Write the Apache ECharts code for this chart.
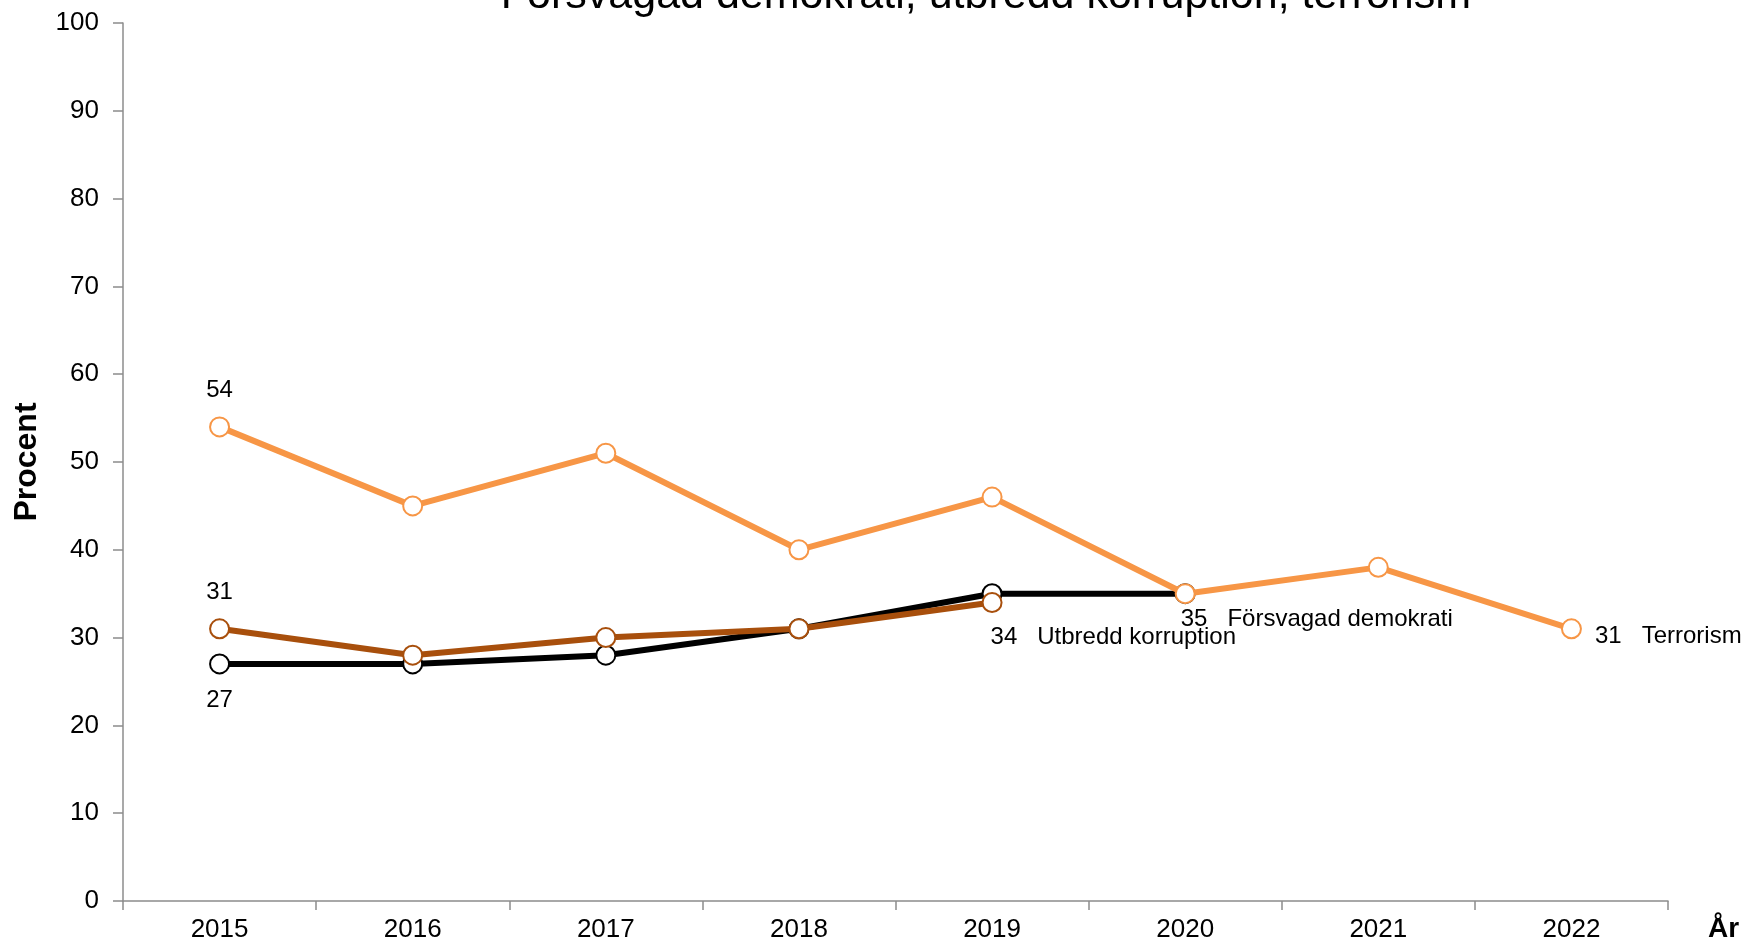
<!doctype html>
<html lang="sv">
  <head>
    <meta charset="UTF-8" />
    <title>Försvagad demokrati, utbredd korruption, terrorism</title>
    <script src="https://cdn.jsdelivr.net/npm/echarts@6/dist/echarts.min.js"></script>
    <style>
      body { margin: 0; padding: 0; background: #fff; }
      .main { width: 1748px; height: 944px; }
    </style>
  </head>
  <body>
    <div class="main"></div>
  </body>
  <script>
    // data
    const years = ["2015", "2016", "2017", "2018", "2019", "2020", "2021", "2022"];
    const demokrati = [27, 27, 28, 31, 35, 35];
    const korruption = [31, 28, 30, 31, 34];
    const terrorism = [54, 45, 51, 40, 46, 35, 38, 31];
    const yTicks = [0, 10, 20, 30, 40, 50, 60, 70, 80, 90, 100];

    const FONT = "'Liberation Sans', Arial, sans-serif";
    const labelStyle = { color: "#000", fontSize: 24, fontFamily: FONT };

    // build points, attach labels to some of them
    function points(values, labels) {
      return values.map((v, i) => {
        const p = { value: v };
        if (labels[i]) {
          p.label = Object.assign({ show: true }, labelStyle, labels[i]);
        }
        return p;
      });
    }

    function series(name, values, color, labels, z) {
      return {
        name: name,
        type: "line",
        z: z,
        data: points(values, labels),
        symbol: "circle",
        symbolSize: 19,
        lineStyle: { color: color, width: 6 },
        itemStyle: { color: "#fff", borderColor: color, borderWidth: 2 },
        emphasis: { disabled: true },
        animation: false,
      };
    }

    const option = {
      backgroundColor: "#fff",
      title: {
        text: "Försvagad demokrati, utbredd korruption, terrorism",
        left: 981,
        textAlign: "center",
        top: -30,
        textStyle: { fontFamily: FONT, fontWeight: "normal", fontSize: 43, color: "#000" },
      },
      grid: { left: 123, right: 80, top: 23, bottom: 43 },
      xAxis: {
        type: "category",
        data: years,
        boundaryGap: true,
        name: "År",
        nameLocation: "end",
        nameGap: 40,
        nameTextStyle: {
          fontFamily: FONT, fontWeight: "bold", fontSize: 28, color: "#000",
          verticalAlign: "top", padding: [14, 0, 0, 0],
        },
        axisLine: { lineStyle: { color: "#8c8c8c", width: 1.5 } },
        axisTick: { show: true, length: 9, lineStyle: { color: "#8c8c8c", width: 1.5 } },
        axisLabel: { color: "#000", fontSize: 26, fontFamily: FONT, margin: 16 },
      },
      yAxis: {
        type: "value",
        min: yTicks[0],
        max: yTicks[yTicks.length - 1],
        interval: yTicks[1] - yTicks[0],
        name: "Procent",
        nameLocation: "middle",
        nameGap: 80,
        nameTextStyle: { fontFamily: FONT, fontWeight: "bold", fontSize: 32, color: "#000" },
        splitLine: { show: false },
        axisLine: { show: true, lineStyle: { color: "#8c8c8c", width: 1.5 } },
        axisTick: { show: true, length: 10, lineStyle: { color: "#8c8c8c", width: 1.5 } },
        axisLabel: { color: "#000", fontSize: 26, fontFamily: FONT, margin: 24 },
      },
      series: [
        series("Försvagad demokrati", demokrati, "#000000", {
          0: { position: "bottom", distance: 14 },
          5: { position: [6, 36], align: "left", verticalAlign: "middle", formatter: "{c}   Försvagad demokrati" },
        }, 2),
        series("Utbredd korruption", korruption, "#a84f0c", {
          0: { position: "top", distance: 14 },
          4: { position: [9, 45], align: "left", verticalAlign: "middle", formatter: "{c}   Utbredd korruption" },
        }, 3),
        series("Terrorism", terrorism, "#f79646", {
          0: { position: "top", distance: 14 },
          7: { position: [34, 18], align: "left", verticalAlign: "middle", formatter: "{c}   Terrorism" },
        }, 4),
      ],
    };

    const myChart = echarts.init(document.querySelector(".main"));
    myChart.setOption(option);
  </script>
</html>
